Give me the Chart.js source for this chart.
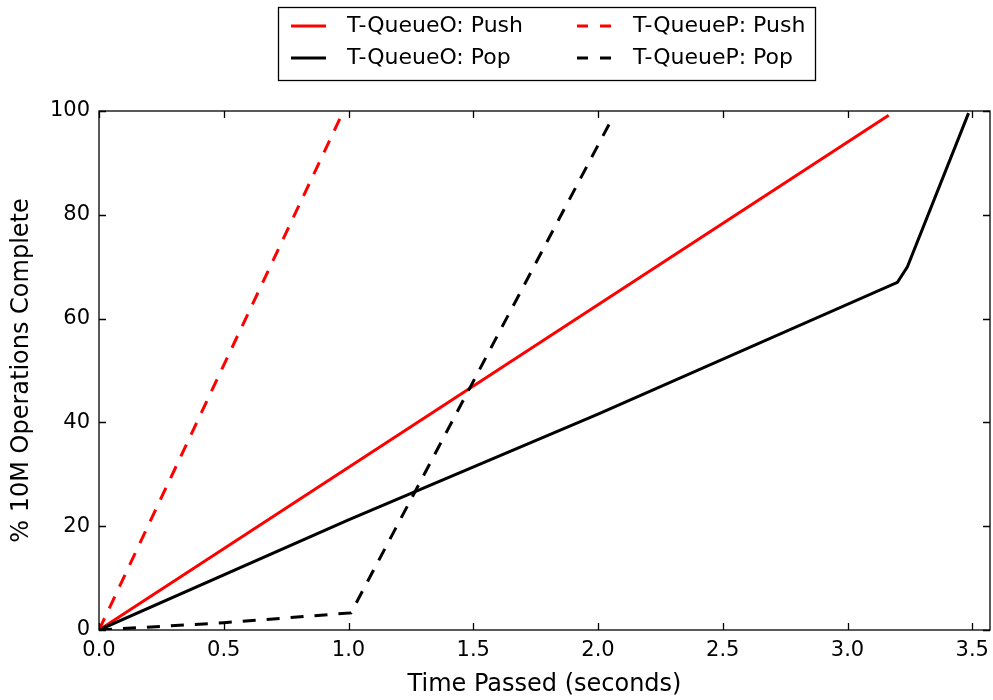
<!DOCTYPE html>
<html>
<head>
<meta charset="utf-8">
<title>T-Queue operations</title>
<script src="https://cdn.jsdelivr.net/npm/chart.js@4.4.1/dist/chart.umd.min.js"></script>
<style>
    html, body { margin: 0; padding: 0; background: #ffffff; }
    #chart { display: block; }
</style>
</head>
<body>
<canvas id="chart" width="993" height="700"></canvas>
<script>
(function () {
    'use strict';

    // values (time in seconds, % complete)
    const pushOTime = [0, 3.165];
    const pushOPct = [0, 99.2];

    const popOTime = [0, 1.0, 2.0, 3.2, 3.24, 3.485];
    const popOPct = [0, 21.2, 41.6, 67.0, 70.0, 99.6];

    const pushPTime = [0, 0.975];
    const pushPPct = [0, 99.5];

    const popPTime = [0, 0.5, 1.01, 2.045];
    const popPPct = [0, 1.4, 3.3, 97.5];

    const xTicks = [0, 0.5, 1.0, 1.5, 2.0, 2.5, 3.0, 3.5];
    const yTicks = [0, 20, 40, 60, 80, 100];

    const seriesLabels = ['T-QueueO: Push', 'T-QueueO: Pop', 'T-QueueP: Push', 'T-QueueP: Pop'];

    const font = "'DejaVu Sans', sans-serif";
    const dash = [13, 11];

    function points(xs, ys) {
        return xs.map((x, i) => ({ x, y: ys[i] }));
    }

    function series(label, xs, ys, color, dashed, order) {
        return {
            label,
            data: points(xs, ys),
            showLine: true,
            borderColor: color,
            backgroundColor: color,
            borderWidth: 3,
            borderDash: dashed ? dash : [],
            borderCapStyle: 'butt',
            pointRadius: 0,
            tension: 0,
            order
        };
    }

    // matplotlib-style frame: box round the plot and inward ticks on all four sides
    const framePlugin = {
        id: 'frame',
        afterDatasetsDraw(chart) {
            const { ctx, chartArea: a, scales } = chart;
            const len = 7;
            ctx.save();
            ctx.strokeStyle = '#000000';
            ctx.lineWidth = 1.3;
            ctx.beginPath();
            scales.x.ticks.forEach((t) => {
                const px = Math.round(scales.x.getPixelForValue(t.value)) + 0.5;
                ctx.moveTo(px, a.bottom);
                ctx.lineTo(px, a.bottom - len);
                ctx.moveTo(px, a.top);
                ctx.lineTo(px, a.top + len);
            });
            scales.y.ticks.forEach((t) => {
                const py = Math.round(scales.y.getPixelForValue(t.value)) + 0.5;
                ctx.moveTo(a.left, py);
                ctx.lineTo(a.left + len, py);
                ctx.moveTo(a.right, py);
                ctx.lineTo(a.right - len, py);
            });
            ctx.stroke();
            ctx.strokeRect(a.left, a.top, a.right - a.left, a.bottom - a.top);
            ctx.restore();
        }
    };

    // legend in a boxed two-column grid above the plot
    const legendPlugin = {
        id: 'boxLegend',
        afterDraw(chart) {
            const { ctx } = chart;
            const box = { left: 278.5, top: 7.5, right: 815.5, bottom: 80.5 };
            const cols = [291, 577];
            const rows = [26, 58];
            const sampleLen = 35;
            const textGap = 21;
            const slots = [[0, 0], [0, 1], [1, 0], [1, 1]];

            ctx.save();
            ctx.fillStyle = '#ffffff';
            ctx.fillRect(box.left, box.top, box.right - box.left, box.bottom - box.top);
            ctx.strokeStyle = '#000000';
            ctx.lineWidth = 1.3;
            ctx.strokeRect(box.left, box.top, box.right - box.left, box.bottom - box.top);

            chart.data.datasets.forEach((ds, i) => {
                const [c, r] = slots[i];
                const x = cols[c];
                const y = rows[r];
                ctx.beginPath();
                ctx.strokeStyle = ds.borderColor;
                ctx.lineWidth = ds.borderWidth;
                ctx.lineCap = 'butt';
                ctx.setLineDash(ds.borderDash.length ? [11, 12] : []);
                ctx.moveTo(x, y);
                ctx.lineTo(x + sampleLen, y);
                ctx.stroke();
                ctx.setLineDash([]);
                ctx.fillStyle = '#000000';
                ctx.font = '22px ' + font;
                ctx.textAlign = 'left';
                ctx.textBaseline = 'middle';
                ctx.fillText(ds.label, x + sampleLen + textGap, y);
            });
            ctx.restore();
        }
    };

    const tickFont = { family: font, size: 21 };
    const titleFont = { family: font, size: 24 };

    new Chart(document.getElementById('chart'), {
        type: 'scatter',
        data: {
            datasets: [
                series(seriesLabels[0], pushOTime, pushOPct, '#ff0000', false, 3),
                series(seriesLabels[1], popOTime, popOPct, '#000000', false, 2),
                series(seriesLabels[2], pushPTime, pushPPct, '#ff0000', true, 1),
                series(seriesLabels[3], popPTime, popPPct, '#000000', true, 0)
            ]
        },
        options: {
            responsive: false,
            animation: false,
            layout: { padding: { top: 111, right: 3, left: 0, bottom: 0 } },
            plugins: {
                legend: { display: false },
                tooltip: { enabled: false }
            },
            scales: {
                x: {
                    type: 'linear',
                    min: 0,
                    max: 3.571,
                    afterBuildTicks: (scale) => { scale.ticks = xTicks.map((v) => ({ value: v })); },
                    afterFit: (scale) => {
                        scale.height = 70;
                        scale.paddingLeft = 0;
                        scale.paddingRight = 0;
                    },
                    grid: { display: false, drawTicks: false },
                    border: { display: false },
                    ticks: {
                        color: '#000000',
                        font: tickFont,
                        padding: 8,
                        maxRotation: 0,
                        callback: (v) => Number(v).toFixed(1)
                    },
                    title: {
                        display: true,
                        text: 'Time Passed (seconds)',
                        color: '#000000',
                        font: titleFont,
                        padding: { top: 0, bottom: 1 }
                    }
                },
                y: {
                    type: 'linear',
                    min: 0,
                    max: 100,
                    afterBuildTicks: (scale) => { scale.ticks = yTicks.map((v) => ({ value: v })); },
                    afterFit: (scale) => {
                        scale.width = 99;
                        scale.paddingTop = 0;
                        scale.paddingBottom = 0;
                    },
                    grid: { display: false, drawTicks: false },
                    border: { display: false },
                    ticks: {
                        color: '#000000',
                        font: tickFont,
                        padding: 9
                    },
                    title: {
                        display: true,
                        text: '% 10M Operations Complete',
                        color: '#000000',
                        font: titleFont,
                        padding: { top: 7, bottom: 0 }
                    }
                }
            }
        },
        plugins: [framePlugin, legendPlugin]
    });
})();
</script>
</body>
</html>
